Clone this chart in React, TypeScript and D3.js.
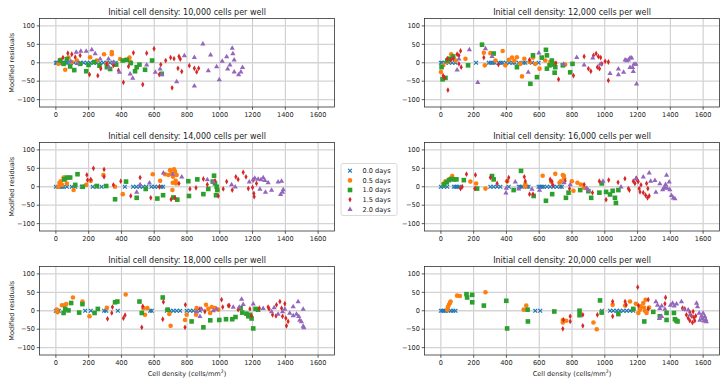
import React from "react";
import * as d3 from "d3";

// --- axis ticks / labels ---
const xTicks = [0, 200, 400, 600, 800, 1000, 1200, 1400, 1600];
const yTicks = [-100, -50, 0, 50, 100];
const dayLabels = ["0.0 days", "0.5 days", "1.0 days", "1.5 days", "2.0 days"];
const densities = ["10,000", "12,000", "14,000", "16,000", "18,000", "20,000"];
const colors = ["#1f77b4", "#ff7f0e", "#2ca02c", "#d62728", "#9467bd"];

// --- 10,000 cells per well ---
const s10_d00 = [[0,0],[5,0],[10,0],[20,0],[30,0],[40,0],[50,0],[60,0],[70,0],[90,0],[110,0],[130,0],[150,0],[170,0],[190,0],[210,0],[230,0],[250,0],[270,0],[290,0],[310,0],[330,0],[350,0],[365,0]];
const s10_d05 = [[16,-3],[57,-19],[77,14],[97,2],[128,6],[209,15],[250,6],[294,23],[341,29],[341,23],[311,-3],[392,10],[449,14],[453,3],[26,8]];
const s10_d10 = [[26,6],[47,-3],[67,10],[87,-10],[112,-20],[148,-3],[185,-23],[199,-6],[234,2],[266,-8],[311,-12],[331,-17],[368,-5],[408,6],[432,8],[457,-1],[483,-23],[493,-12],[510,-5],[544,-19],[587,6],[646,-30]];
const s10_d15 = [[43,14],[73,26],[97,23],[118,15],[148,20],[205,-32],[256,-35],[274,-16],[311,-3],[351,-7],[382,-21],[412,-53],[443,-10],[473,27],[530,-59],[554,26],[599,38],[631,-32],[640,-5],[670,6],[700,14],[709,-68],[721,11],[745,-15],[751,17],[759,10],[768,-24],[814,-8],[845,-15],[859,-25],[871,-15]];
const s10_d20 = [[124,29],[152,32],[185,32],[219,36],[240,25],[270,11],[321,11],[325,-12],[351,2],[388,-25],[453,-30],[469,-41],[554,-5],[607,-25],[636,-16],[646,-32],[737,-51],[784,20],[845,15],[845,-62],[897,52],[930,-21],[944,22],[981,-10],[997,-45],[1015,5],[1042,17],[1048,-16],[1062,-5],[1076,40],[1080,25],[1088,-24],[1088,8],[1115,-32],[1129,-24],[1139,-12],[91,4],[132,-1]];

// --- 12,000 cells per well ---
const s12_d00 = [[0,0],[8,0],[28,0],[49,0],[69,0],[89,0],[215,0],[292,0],[304,0],[316,0],[328,0],[353,0],[365,0],[377,0],[398,0],[418,0],[438,0],[450,0],[475,0],[503,0],[515,0],[556,0],[596,0]];
const s12_d05 = [[0,-25],[14,-7],[39,2],[63,23],[75,15],[89,6],[150,11],[262,27],[268,-7],[302,26],[333,6],[377,32],[393,-7],[414,8],[434,14],[448,5],[464,15],[485,-3],[495,-37],[509,11],[541,2],[562,14],[576,-3],[602,-16],[637,6],[667,2],[688,-1],[758,-5]];
const s12_d10 = [[4,-12],[10,-45],[28,-41],[39,6],[55,11],[75,17],[166,-7],[251,49],[322,25],[464,-12],[546,-57],[562,20],[586,-39],[616,14],[641,35],[647,20],[647,-16],[663,-7],[677,6],[688,-5],[694,-27],[698,-12],[744,-7],[789,-26],[803,-3]];
const s12_d15 = [[14,-35],[22,-41],[39,11],[43,-74],[59,8],[75,11],[99,23],[110,20],[120,32],[110,-3],[124,-12],[262,14],[351,-5],[541,8],[702,-1],[718,-45],[809,-35],[874,17],[900,-16],[915,-23],[931,20],[947,25],[961,17],[955,-12],[968,-16],[975,14],[982,-3],[1002,4],[1022,2],[1022,-48]];
const s12_d20 = [[99,-19],[110,11],[174,36],[225,-53],[272,39],[312,18],[533,-25],[598,27],[748,-3],[829,15],[874,-5],[927,14],[972,-3],[1032,-28],[1083,-16],[1083,-32],[1115,-25],[1124,8],[1144,8],[1154,14],[1154,-12],[1164,14],[1170,-12],[1174,-23],[1178,-3],[1190,-3],[1194,-57],[1134,6]];

// --- 14,000 cells per well ---
const s14_d00 = [[0,0],[16,0],[26,0],[37,0],[47,0],[67,0],[97,0],[118,0],[158,0],[225,0],[248,0],[279,0],[421,0],[471,0],[491,0],[512,0],[532,0],[552,0],[583,0],[603,0],[623,0],[643,0],[654,0]];
const s14_d05 = [[15,0],[22,11],[30,15],[37,5],[47,25],[57,20],[67,9],[108,-9],[185,5],[213,16],[290,32],[361,0],[408,-20],[591,34],[636,16],[666,34],[686,32],[697,45],[705,36],[715,27],[713,11],[711,-9],[721,47],[727,41],[731,16],[733,9],[737,32]];
const s14_d10 = [[51,20],[67,25],[87,25],[132,34],[118,5],[164,0],[250,2],[307,2],[361,-34],[428,14],[493,-30],[548,-6],[619,-32],[654,-23],[717,-29],[741,-35],[808,15],[812,-25],[863,20],[900,-20],[930,-6],[957,14],[965,30],[971,9],[977,-23],[981,0],[985,-9]];
const s14_d15 = [[189,32],[193,18],[213,20],[229,50],[294,47],[294,27],[351,5],[396,15],[457,-25],[514,25],[579,-30],[632,0],[703,-34],[727,-30],[751,9],[818,-6],[855,-3],[900,21],[924,6],[971,16],[991,-25],[1021,-6],[1042,14],[1076,-9],[1098,27],[1112,20],[1143,39],[1160,27],[1174,-5],[1200,-2],[1208,-18],[1210,-27],[1224,9],[1204,18]];
const s14_d20 = [[493,-14],[514,6],[571,11],[656,38],[713,35],[768,27],[924,20],[961,14],[1072,6],[1180,14],[1204,20],[1214,24],[1234,21],[1251,20],[1265,25],[1275,18],[1295,12],[1279,-14],[1316,-9],[1356,14],[1377,16],[1387,-7],[1371,-20],[1383,-14],[1245,-6],[1094,0]];

// --- 16,000 cells per well ---
const s16_d00 = [[0,0],[18,0],[39,0],[79,0],[89,0],[99,0],[110,0],[302,0],[322,0],[343,0],[363,0],[414,0],[475,0],[485,0],[495,0],[525,0],[535,0],[596,0],[606,0],[617,0],[627,0],[647,0],[667,0],[687,0],[708,0],[728,0],[738,0]];
const s16_d05 = [[18,9],[28,15],[55,21],[69,29],[180,14],[215,9],[272,-5],[404,15],[515,7],[515,0],[621,30],[673,14],[698,35],[724,11],[732,15],[744,32],[750,30],[752,23],[799,15],[809,-11],[833,11],[854,6],[874,-3]];
const s16_d10 = [[18,6],[35,12],[49,18],[63,21],[79,20],[95,20],[140,18],[221,-5],[312,29],[322,20],[444,-9],[489,43],[566,-25],[641,-38],[679,-20],[763,-30],[779,-16],[850,-9],[917,-30],[900,-12],[967,-16],[981,9],[1008,-14],[1032,-21],[1048,-11],[1062,-30],[1068,-44],[1083,-9]];
const s16_d15 = [[120,-5],[130,0],[156,34],[211,32],[207,-5],[302,25],[343,9],[414,25],[404,15],[509,27],[515,15],[541,-20],[562,-20],[667,20],[677,14],[683,5],[758,16],[785,-5],[874,6],[925,-16],[967,15],[1008,-35],[1024,18],[1081,12],[1123,22],[1144,-5],[1150,-9],[1174,15],[1184,9],[1198,18],[1204,14],[1210,-5],[1215,-14],[1221,5],[1235,-16],[1249,-23],[1255,9],[1261,-30],[1271,-25],[1192,23],[1263,-5]];
const s16_d20 = [[397,-16],[399,-3],[454,14],[475,-5],[556,-6],[602,-9],[752,12],[789,6],[890,-3],[900,-9],[989,16],[1099,0],[1190,22],[1235,27],[1271,38],[1280,16],[1306,18],[1312,-14],[1336,9],[1353,-7],[1367,0],[1377,32],[1371,7],[1381,-3],[1393,14],[1397,-7],[1407,-23],[1418,-30],[1428,-32],[1361,-3]];

// --- 18,000 cells per well ---
const s18_d00 = [[0,0],[10,0],[18,0],[179,0],[213,0],[294,0],[307,0],[378,0],[575,0],[585,0],[677,0],[697,0],[717,0],[737,0],[758,0],[798,0],[819,0],[839,0],[859,0],[879,0]];
const s18_d05 = [[6,3],[10,-4],[37,15],[51,15],[63,18],[104,36],[162,25],[205,-15],[311,8],[426,44],[534,7],[544,-11],[558,7],[692,-9],[700,-41],[788,-25],[798,-11],[855,-11],[859,7],[916,16],[930,5],[941,-6],[951,10],[971,7],[991,3]];
const s18_d10 = [[47,-6],[57,5],[77,1],[93,21],[142,-5],[162,18],[236,-6],[256,5],[361,23],[375,25],[510,25],[524,-6],[652,36],[682,3],[828,-29],[900,-45],[942,-26],[997,-25],[1038,-23],[1076,-23],[1096,-17],[1127,7],[1137,-5],[1163,-8],[1174,-15],[1184,-11],[1194,-21],[1204,-48],[1218,5],[1234,3]];
const s18_d15 = [[315,-22],[341,-6],[345,10],[412,-20],[422,-12],[530,12],[524,-45],[652,-23],[656,24],[788,-45],[790,16],[879,5],[909,-2],[1011,30],[1018,10],[1052,14],[1058,14],[1112,3],[1184,5],[1194,-14],[1241,7],[1295,10],[1301,5],[1322,-11],[1343,-14],[1346,16],[1367,25],[1383,-15],[1397,19],[1403,-20],[1407,-41],[1417,-29],[1377,7]];
const s18_d20 = [[859,-2],[879,-15],[889,5],[961,1],[981,5],[1082,10],[1119,10],[1133,32],[1143,18],[1204,19],[1265,7],[1316,-2],[1332,9],[1356,-9],[1383,-2],[1397,5],[1427,-6],[1448,-13],[1468,-9],[1478,25],[1482,-15],[1488,-25],[1498,-29],[1509,-41],[1513,-45],[1509,5],[1448,12]];

// --- 20,000 cells per well ---
const s20_d00 = [[0,0],[10,0],[20,0],[30,0],[45,0],[60,0],[75,0],[89,0],[576,0],[606,0],[982,0],[1032,0],[1052,0],[1073,0],[1093,0],[1113,0],[1134,0],[1154,0],[1174,0]];
const s20_d05 = [[39,3],[43,10],[49,16],[55,21],[59,25],[99,41],[116,40],[272,50],[521,14],[505,3],[744,-32],[744,-25],[765,-27],[931,-32],[951,-50],[1048,16],[1124,14],[1154,25],[1190,19],[1205,-6],[1215,3],[1219,12],[1235,21],[1249,30],[1239,9],[1245,0],[1255,-6],[1174,4],[1270,9]];
const s20_d10 = [[156,45],[160,36],[191,43],[191,23],[262,14],[399,27],[404,-48],[529,3],[531,-29],[692,-2],[846,0],[846,-12],[971,28],[981,-5],[1083,-9],[1174,5],[1241,-29],[1296,-3],[1336,-15],[1377,-25],[1377,-6],[1422,-6],[1428,-23],[1438,-27],[1444,-29]];
const s20_d15 = [[744,-49],[748,-25],[789,-29],[789,-15],[866,-41],[866,-11],[955,-11],[1048,25],[1048,-15],[1124,25],[1130,16],[1201,64],[1205,14],[1265,30],[1265,5],[1367,19],[1371,36],[1474,7],[1488,5],[1498,-11],[1509,-20],[1519,-27],[1529,-14],[1535,-32],[1543,-18],[1549,-27],[1555,-14],[1519,-4],[1539,-2]];
const s20_d20 = [[1312,25],[1322,16],[1336,7],[1347,14],[1367,5],[1333,-20],[1347,-15],[1401,16],[1414,21],[1424,14],[1438,19],[1468,25],[1482,5],[1509,3],[1519,-11],[1560,21],[1566,12],[1576,-6],[1580,-25],[1596,-20],[1604,-27],[1610,-15],[1616,-23],[1620,-29],[1590,-14],[1600,-6]];

const panelSeries = [
  [s10_d00, s10_d05, s10_d10, s10_d15, s10_d20],
  [s12_d00, s12_d05, s12_d10, s12_d15, s12_d20],
  [s14_d00, s14_d05, s14_d10, s14_d15, s14_d20],
  [s16_d00, s16_d05, s16_d10, s16_d15, s16_d20],
  [s18_d00, s18_d05, s18_d10, s18_d15, s18_d20],
  [s20_d00, s20_d05, s20_d10, s20_d15, s20_d20],
];

const FONT = "DejaVu Sans, sans-serif";
const PW = 295;
const PH = 88.5;
const colX = [39.5, 424.5];
const rowY = [18.5, 142.5, 266.5];

function Marker({ kind, color, cx, cy }) {
  const t = `translate(${cx},${cy})`;
  if (kind === 0)
    return <path transform={t} d="M-1.9,-1.9L1.9,1.9M-1.9,1.9L1.9,-1.9" stroke={color} strokeWidth={1.2} fill="none" />;
  if (kind === 1) return <circle cx={cx} cy={cy} r={2.3} fill={color} />;
  if (kind === 2) return <rect x={cx - 2.3} y={cy - 2.3} width={4.6} height={4.6} fill={color} />;
  if (kind === 3) return <path transform={t} d="M0,-2.9L1.6,0L0,2.9L-1.6,0Z" fill={color} />;
  return <path transform={t} d="M0,-2.7L2.6,1.8L-2.6,1.8Z" fill={color} />;
}

function Panel({ idx }) {
  const x0 = colX[idx % 2];
  const y0 = rowY[Math.floor(idx / 2)];
  const x = d3.scaleLinear().domain([-100, 1700]).range([x0, x0 + PW]);
  const y = d3.scaleLinear().domain([-120, 120]).range([y0 + PH, y0]);
  const series = panelSeries[idx];
  const isLeft = idx % 2 === 0;
  const isBottom = idx >= 4;

  return (
    <g>
      {/* grid */}
      {xTicks.map(t => (
        <line key={"gx" + t} x1={x(t)} x2={x(t)} y1={y0} y2={y0 + PH} stroke="#c8c8c8" strokeWidth={1} />
      ))}
      {yTicks.map(t => (
        <line key={"gy" + t} x1={x0} x2={x0 + PW} y1={y(t)} y2={y(t)} stroke="#d4d4d4" strokeWidth={1.3} />
      ))}

      {/* points */}
      {series.map((pts, k) =>
        pts.map((p, i) => <Marker key={k + "-" + i} kind={k} color={colors[k]} cx={x(p[0])} cy={y(p[1])} />)
      )}

      {/* frame */}
      <rect x={x0} y={y0} width={PW} height={PH} fill="none" stroke="#333" strokeWidth={0.8} />

      {/* x ticks */}
      {xTicks.map(t => (
        <g key={"tx" + t}>
          <line x1={x(t)} x2={x(t)} y1={y0 + PH} y2={y0 + PH + 2.8} stroke="#333" strokeWidth={0.8} />
          <text x={x(t)} y={y0 + PH + 9.5} fontSize={6.6} textAnchor="middle" fill="#222" fontFamily={FONT}>
            {t}
          </text>
        </g>
      ))}
      {/* y ticks */}
      {yTicks.map(t => (
        <g key={"ty" + t}>
          <line x1={x0 - 2.8} x2={x0} y1={y(t)} y2={y(t)} stroke="#333" strokeWidth={0.8} />
          <text x={x0 - 4.5} y={y(t) + 2.3} fontSize={6.6} textAnchor="end" fill="#222" fontFamily={FONT}>
            {t < 0 ? "\u2212" + Math.abs(t) : t}
          </text>
        </g>
      ))}

      <text x={x0 + PW / 2} y={y0 - 4} fontSize={8} textAnchor="middle" fill="#222" fontFamily={FONT}>
        {`Initial cell density: ${densities[idx]} cells per well`}
      </text>

      {isLeft && (
        <text
          transform={`translate(${x0 - 25.5},${y0 + PH / 2}) rotate(-90)`}
          fontSize={6.6}
          textAnchor="middle"
          fill="#222"
          fontFamily={FONT}
        >
          Modified residuals
        </text>
      )}
      {isBottom && (
        <text x={x0 + PW / 2} y={y0 + PH + 20.5} fontSize={6.6} textAnchor="middle" fill="#222" fontFamily={FONT}>
          Cell density (cells/mm<tspan dy={-2.5} fontSize={4.6}>2</tspan>
          <tspan dy={2.5}>)</tspan>
        </text>
      )}
    </g>
  );
}

function Legend() {
  const lx = 341;
  const ly = 163.5;
  const rowY0 = 170.8;
  const step = 9.6;
  return (
    <g>
      <rect x={lx} y={ly} width={56} height={52} rx={2} fill="#fff" stroke="#d0d0d0" strokeWidth={0.8} />
      {dayLabels.map((lab, k) => (
        <g key={lab}>
          <Marker kind={k} color={colors[k]} cx={350} cy={rowY0 + k * step} />
          <text x={362.5} y={rowY0 + k * step + 2.3} fontSize={6.6} fill="#222" fontFamily={FONT}>
            {lab}
          </text>
        </g>
      ))}
    </g>
  );
}

export default function App() {
  return (
    <svg width={727} height={388} style={{ position: "absolute", left: 0, top: 0, background: "#fff" }}>
      {panelSeries.map((_, i) => (
        <Panel key={i} idx={i} />
      ))}
      <Legend />
    </svg>
  );
}
